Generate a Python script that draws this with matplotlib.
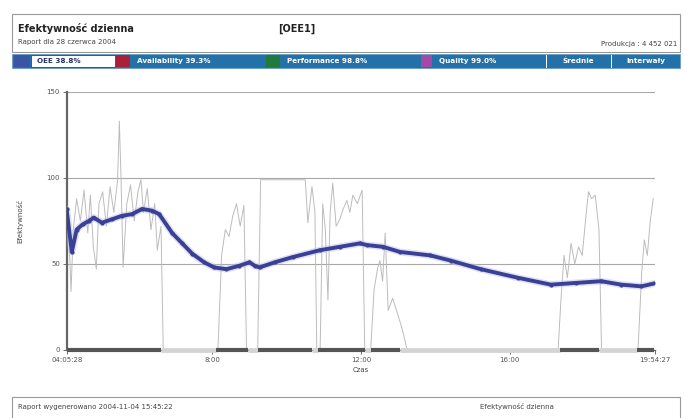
import matplotlib
matplotlib.use("Agg")
import matplotlib.pyplot as plt
from matplotlib.patches import Rectangle
import numpy as np

W, H = 685, 418

# ---- data ----
gray_times = [4.09, 4.15, 4.20, 4.26, 4.35, 4.45, 4.55, 4.65, 4.72, 4.80, 4.88, 4.95,
              5.05, 5.15, 5.25, 5.35, 5.45, 5.50, 5.55, 5.60, 5.70, 5.80, 5.90, 6.00,
              6.08, 6.15, 6.25, 6.35, 6.45, 6.52, 6.62, 6.68,
              8.15, 8.25, 8.35, 8.45, 8.55, 8.65, 8.75, 8.85, 8.92,
              9.22, 9.30, 10.50, 10.57, 10.68, 10.76, 10.81, 10.90, 10.97, 11.04, 11.11,
              11.17, 11.24, 11.33, 11.43, 11.52, 11.62, 11.70, 11.78, 11.90, 12.03, 12.10,
              12.26, 12.35, 12.45, 12.51, 12.58, 12.65, 12.73, 12.85, 12.97, 13.11, 13.24,
              17.30, 17.38, 17.46, 17.55, 17.65, 17.75, 17.85, 17.95, 18.05, 18.12, 18.20,
              18.30, 18.40, 18.47,
              19.45, 19.55, 19.62, 19.70, 19.78, 19.86]
gray_values = [80, 62, 34, 70, 88, 75, 93, 68, 90, 60, 47, 85,
               92, 72, 95, 80, 98, 133, 95, 48, 85, 96, 75, 92,
               99, 80, 94, 70, 85, 58, 72, 0,
               0, 55, 70, 66, 78, 85, 72, 84, 0,
               0, 99, 99, 74, 95, 80, 0, 0, 85, 70, 29,
               80, 97, 72, 76, 82, 87, 80, 90, 85, 93, 0,
               0, 35, 48, 52, 40, 68, 23, 30, 22, 12, 0,
               0, 30, 55, 42, 62, 50, 60, 55, 78, 92, 88,
               90, 70, 0,
               0, 45, 64, 55, 75, 88]

oee_times = [4.08, 4.22, 4.35, 4.51, 4.68, 4.81, 5.03, 5.30, 5.57, 5.84, 6.11, 6.38,
             6.57, 6.92, 7.19, 7.46, 7.78, 8.05, 8.38, 8.73, 9.00, 9.14, 9.27, 9.68,
             10.16, 10.89, 11.43, 11.97, 12.16, 12.59, 13.05, 13.86, 14.41, 15.22,
             16.22, 17.11, 17.78, 18.46, 19.00, 19.54, 19.95]
oee_values = [82, 57, 70, 73, 75, 77, 74, 76, 78, 79, 82, 81,
              79, 68, 62, 56, 51, 48, 47, 49, 51, 49, 48, 51,
              54, 58, 60, 62, 61, 60, 57, 55, 52, 47,
              42, 38, 39, 40, 38, 37, 39]

status_start = [4.09, 6.62, 8.11, 8.97, 9.22, 10.68, 10.84, 12.11, 12.27, 13.05, 17.35, 18.41, 19.41]
status_end = [6.62, 8.11, 8.97, 9.22, 10.68, 10.84, 12.11, 12.27, 13.05, 17.35, 18.41, 19.41, 19.89]
status_run = [1, 0, 1, 0, 1, 0, 1, 0, 1, 0, 1, 0, 1]

y_ticks = [0, 50, 100, 150]
x_tick_pos = [4.0911, 8.0, 12.0, 16.0, 19.9075]
x_tick_labels = ["04:05:28", "8:00", "12:00", "16:00", "19:54:27"]

tabs = [("OEE 38.8%", "#3a55a5"), ("Availability 39.3%", "#a8203a"),
        ("Performance 98.8%", "#1f7a3c"), ("Quality 99.0%", "#a24aa6")]
extra_tabs = ["Średnie", "Interwały"]

# ---- figure ----
fig = plt.figure(figsize=(W / 100, H / 100), dpi=100)
fig.patch.set_facecolor("white")


def fx(x):
    return x / W


def fy(y):
    return 1 - y / H


def frect(x0, y0, x1, y1, **kw):
    fig.patches.append(Rectangle((fx(x0), fy(y1)), fx(x1) - fx(x0), fy(y0) - fy(y1),
                                 transform=fig.transFigure, **kw))


# header box
frect(12, 14, 680, 52, facecolor="white", edgecolor="#9a9a9a", lw=0.8)
fig.text(fx(18), fy(29), "Efektywność dzienna", fontsize=7, fontweight="bold",
         color="#222222", va="center")
fig.text(fx(278), fy(29), "[OEE1]", fontsize=7, fontweight="bold", color="#222222", va="center")
fig.text(fx(18), fy(42), "Raport dla 28 czerwca 2004", fontsize=5, color="#444444", va="center")
fig.text(fx(677), fy(44), "Produkcja : 4 452 021", fontsize=5, color="#444444",
         va="center", ha="right")

# tab bar
bar_y0, bar_y1 = 54, 68
bar_col = "#2271a8"
frect(12, bar_y0, 680, bar_y1, facecolor=bar_col, edgecolor="#6a9cc0", lw=0.6)
seg = [(14, 30, 31, 115), (116, 130, 131, 265), (266, 280, 281, 420), (421, 432, 433, 545)]
for i, ((name, col), (s0, s1, t0, t1)) in enumerate(zip(tabs, seg)):
    frect(s0, bar_y0 + 1, s1, bar_y1 - 1, facecolor=col, edgecolor="none")
    if i == 0:
        frect(t0, bar_y0 + 1, t1, bar_y1 - 1, facecolor="white", edgecolor="#444444", lw=0.6)
        tc = "#223366"
    else:
        tc = "white"
    fig.text(fx(t0 + 6), fy((bar_y0 + bar_y1) / 2), name, fontsize=5.2, fontweight="bold",
             color=tc, va="center")
for x in [546, 611]:
    fig.lines.append(plt.Line2D([fx(x), fx(x)], [fy(bar_y0 + 1), fy(bar_y1 - 1)],
                                transform=fig.transFigure, color="white", lw=0.7))
fig.text(fx(578), fy((bar_y0 + bar_y1) / 2), extra_tabs[0], fontsize=5.2, fontweight="bold",
         color="white", va="center", ha="center")
fig.text(fx(646), fy((bar_y0 + bar_y1) / 2), extra_tabs[1], fontsize=5.2, fontweight="bold",
         color="white", va="center", ha="center")

# footer box
frect(12, 397, 680, 430, facecolor="white", edgecolor="#9a9a9a", lw=0.8)
fig.text(fx(18), fy(407), "Raport wygenerowano 2004-11-04 15:45:22", fontsize=5,
         color="#444444", va="center")
fig.text(fx(480), fy(407), "Efektywność dzienna", fontsize=5, color="#444444", va="center")

# ---- chart ----
ax = fig.add_axes([fx(67), fy(350), fx(655) - fx(67), fy(92) - fy(350)])
ax.set_xlim(x_tick_pos[0], x_tick_pos[-1])
ax.set_ylim(0, 150)
for yv in [50, 100, 150]:
    ax.axhline(yv, color="#a8a8a8", lw=0.8, zorder=1)

ax.plot(gray_times, gray_values, color="#bcbcbc", lw=0.7, zorder=2)

for s, e, r in zip(status_start, status_end, status_run):
    ax.hlines(0, s, e, colors="#555555" if r else "#d4d4d4", lw=3 if r else 3.5,
              zorder=4, clip_on=False)

ax.plot(oee_times, oee_values, color="#c0c4ea", lw=5, alpha=0.5, zorder=3,
        solid_capstyle="round")
ax.plot(oee_times, oee_values, color="#3a4095", lw=2.8, zorder=3, solid_capstyle="round",
        marker="o", markersize=3, markeredgewidth=0, markevery=1)

ax.set_yticks(y_ticks)
ax.set_yticklabels([str(v) for v in y_ticks])
ax.set_xticks(x_tick_pos)
ax.set_xticklabels(x_tick_labels)
ax.tick_params(axis="both", labelsize=5, colors="#555555", length=3, width=0.6, pad=2)
for sp in ["top", "right"]:
    ax.spines[sp].set_visible(False)
ax.spines["left"].set_color("#666666")
ax.spines["left"].set_linewidth(1.6)
ax.spines["bottom"].set_color("#666666")
ax.spines["bottom"].set_linewidth(1.0)
ax.set_xlabel("Czas", fontsize=5, color="#444444", labelpad=3)
ax.set_ylabel("Efektywność", fontsize=5, color="#444444", labelpad=17)

fig.savefig("out.png", dpi=100, facecolor="white")
